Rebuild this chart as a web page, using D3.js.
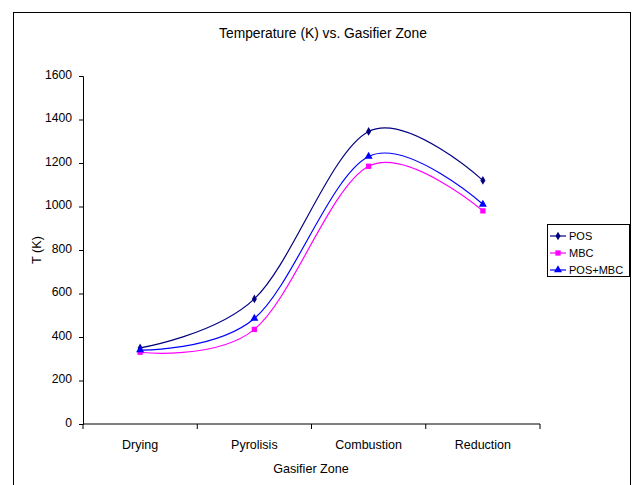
<!DOCTYPE html>
<html>
<head>
<meta charset="utf-8">
<script src="https://cdn.jsdelivr.net/npm/d3@7/dist/d3.min.js"></script>
<style>
  body { margin: 0; background: #fff; }
  svg { display: block; font-family: "Liberation Sans", Arial, sans-serif; }
</style>
</head>
<body>
<svg id="chart" width="633" height="485"></svg>
<script>
// Gasifier zones along the x axis
const zones = ["Drying", "Pyrolisis", "Combustion", "Reduction"];

// Temperature (K) per zone for each fuel
const posValues    = [350, 575, 1345, 1120];
const mbcValues    = [330, 435, 1185, 980];
const posMbcValues = [340, 485, 1230, 1010];

const yTicks = [0, 200, 400, 600, 800, 1000, 1200, 1400, 1600];

const series = [
  { name: "POS",     values: posValues,    color: "#000080", symbol: d3.symbolDiamond,  size: 22 },
  { name: "MBC",     values: mbcValues,    color: "#FF00FF", symbol: d3.symbolSquare,   size: 28 },
  { name: "POS+MBC", values: posMbcValues, color: "#0000FF", symbol: d3.symbolTriangle, size: 28 }
];

const svg = d3.select("#chart");

// Chart frame
svg.append("rect")
  .attr("x", 13.5).attr("y", 12.5)
  .attr("width", 617).attr("height", 480)
  .attr("fill", "none").attr("stroke", "#000").attr("stroke-width", 1);

const plot = { left: 83, right: 540, top: 76, bottom: 424 };

const x = d3.scaleBand().domain(zones).range([plot.left, plot.right]).padding(0);
const y = d3.scaleLinear().domain([0, 1600]).range([plot.bottom, plot.top]);

// Title
svg.append("text")
  .attr("x", 323).attr("y", 38)
  .attr("text-anchor", "middle")
  .attr("font-size", 13.8)
  .text("Temperature (K) vs. Gasifier Zone");

// Y axis
const yAxis = svg.append("g")
  .attr("transform", `translate(${plot.left},0)`)
  .call(d3.axisLeft(y).tickValues(yTicks).tickSize(4).tickPadding(7).tickFormat(d3.format("d")));
yAxis.selectAll("text")
  .attr("font-size", 12.2).attr("fill", "#000")
  .attr("font-family", "Liberation Sans, Arial, sans-serif")
  .attr("dy", "0.2em");
yAxis.select(".domain").attr("stroke", "#000");
yAxis.selectAll(".tick line").attr("stroke", "#000");

// X axis: category labels centered, ticks between categories
const xAxisG = svg.append("g").attr("transform", `translate(0,${plot.bottom})`);
xAxisG.append("line")
  .attr("x1", plot.left).attr("x2", plot.right)
  .attr("stroke", "#000");
const bounds = zones.map(z => x(z)).concat([plot.right]);
xAxisG.selectAll("line.tk").data(bounds).join("line")
  .attr("class", "tk")
  .attr("x1", d => d).attr("x2", d => d)
  .attr("y1", 0).attr("y2", 5)
  .attr("stroke", "#000");
xAxisG.selectAll("text").data(zones).join("text")
  .attr("x", d => x(d) + x.bandwidth() / 2)
  .attr("y", 25)
  .attr("text-anchor", "middle")
  .attr("font-size", 12.5)
  .text(d => d);

// Axis titles
svg.append("text")
  .attr("x", 311).attr("y", 473)
  .attr("text-anchor", "middle")
  .attr("font-size", 12.6)
  .text("Gasifier Zone");
svg.append("text")
  .attr("transform", "translate(41,250) rotate(-90)")
  .attr("text-anchor", "middle")
  .attr("font-size", 12.6)
  .text("T (K)");

// Smoothed lines with markers
const cx = z => x(z) + x.bandwidth() / 2;
const line = d3.line()
  .x((d, i) => cx(zones[i]))
  .y(d => y(d))
  .curve(d3.curveCatmullRom.alpha(0));

series.forEach(s => {
  svg.append("path")
    .attr("d", line(s.values))
    .attr("fill", "none")
    .attr("stroke", s.color)
    .attr("stroke-width", 1.2);
  svg.selectAll(null).data(s.values).join("path")
    .attr("transform", (d, i) => `translate(${cx(zones[i])},${y(d)})`)
    .attr("d", d3.symbol().type(s.symbol).size(s.size))
    .attr("fill", s.color);
});

// Legend
const legend = svg.append("g").attr("transform", "translate(547,224)");
legend.append("rect")
  .attr("x", 0.5).attr("y", 0.5)
  .attr("width", 82).attr("height", 52)
  .attr("fill", "#fff").attr("stroke", "#000");
series.forEach((s, i) => {
  const ly = 12 + i * 17;
  legend.append("line")
    .attr("x1", 3).attr("x2", 19).attr("y1", ly).attr("y2", ly)
    .attr("stroke", s.color).attr("stroke-width", 1.2);
  legend.append("path")
    .attr("transform", `translate(11,${ly})`)
    .attr("d", d3.symbol().type(s.symbol).size(s.size))
    .attr("fill", s.color);
  legend.append("text")
    .attr("x", 22).attr("y", ly + 4)
    .attr("font-size", 11)
    .text(s.name);
});
</script>
</body>
</html>
